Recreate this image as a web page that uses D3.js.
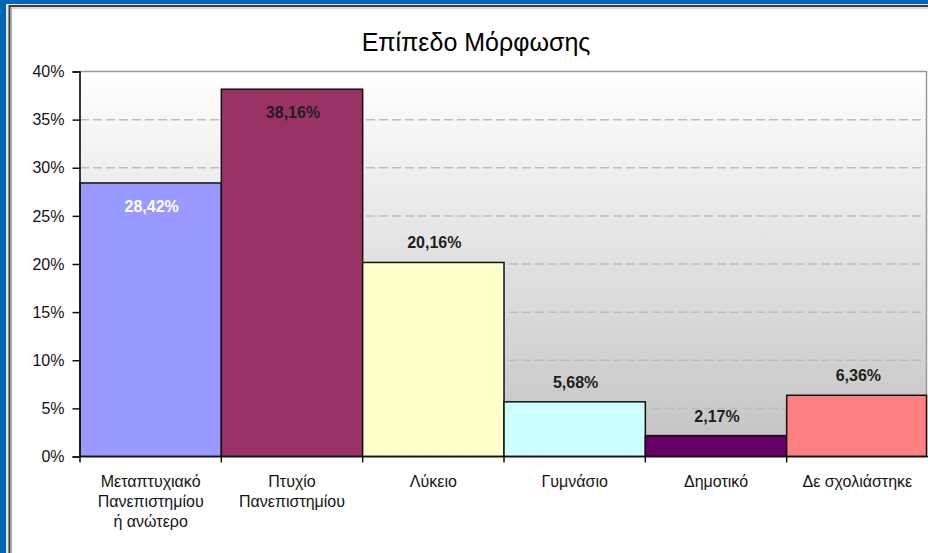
<!DOCTYPE html>
<html>
<head>
<meta charset="utf-8">
<script src="https://cdn.jsdelivr.net/npm/d3@7"></script>
<style>
  body { margin: 0; background: #0066b3; }
  svg { display: block; }
  text { font-family: "Liberation Sans", Arial, sans-serif; fill: #141414; }
</style>
</head>
<body>
<div id="chart"></div>
<script>
const title = 'Επίπεδο Μόρφωσης';
const categories = [
  ['Μεταπτυχιακό', 'Πανεπιστημίου', 'ή ανώτερο'],
  ['Πτυχίο', 'Πανεπιστημίου'],
  ['Λύκειο'],
  ['Γυμνάσιο'],
  ['Δημοτικό'],
  ['Δε σχολιάστηκε']
];
const values = [28.42, 38.16, 20.16, 5.68, 2.17, 6.36];
const yTicks = [0, 5, 10, 15, 20, 25, 30, 35, 40];

const colors = ['#9999ff', '#993366', '#ffffcc', '#ccffff', '#660066', '#ff8080'];
const labelColors = ['#ffffff', '#1e1e1e', '#1e1e1e', '#1e1e1e', '#1e1e1e', '#1e1e1e'];

drawChart();

function drawChart() {
  const width = 928;
  const height = 553;
  const svg = d3.select('#chart')
    .append('svg')
    .attr('width', width)
    .attr('height', height);

  // white chart area inside the blue frame
  svg.append('rect')
    .attr('x', 6)
    .attr('y', 4)
    .attr('width', width)
    .attr('height', height)
    .attr('fill', '#e8e8e8');
  svg.append('rect')
    .attr('x', 9.5)
    .attr('y', 6)
    .attr('width', width + 10)
    .attr('height', height + 10)
    .attr('fill', '#ffffff')
    .attr('stroke', '#3c3c3c')
    .attr('stroke-width', 2);
  svg.append('rect')
    .attr('x', 11.5)
    .attr('y', 8)
    .attr('width', width + 10)
    .attr('height', height + 10)
    .attr('fill', 'none')
    .attr('stroke', '#b0b0b0')
    .attr('stroke-width', 1);

  const left = 80;
  const right = 928;
  const top = 71.5;
  const bottom = 456.5;

  const x = d3.scaleBand()
    .domain(d3.range(values.length))
    .range([left, right])
    .padding(0);

  const y = d3.scaleLinear()
    .domain([0, 40])
    .range([bottom, top]);

  // plot area gradient
  const defs = svg.append('defs');
  const grad = defs.append('linearGradient')
    .attr('id', 'plotbg')
    .attr('x1', 0).attr('y1', 0)
    .attr('x2', 0).attr('y2', 1);
  grad.append('stop').attr('offset', '0%').attr('stop-color', '#ffffff');
  grad.append('stop').attr('offset', '100%').attr('stop-color', '#c2c2c2');

  svg.append('rect')
    .attr('x', left)
    .attr('y', top)
    .attr('width', 926.5 - left)
    .attr('height', bottom - top)
    .attr('fill', 'url(#plotbg)')
    .attr('stroke', '#9a9a9a')
    .attr('stroke-width', 1.5);

  // dashed gridlines
  svg.append('g')
    .selectAll('line')
    .data(yTicks.filter(d => d > 0 && d < 40))
    .enter()
    .append('line')
    .attr('x1', left)
    .attr('x2', 926.5)
    .attr('y1', d => y(d))
    .attr('y2', d => y(d))
    .attr('stroke', '#bdbdbd')
    .attr('stroke-width', 1.5)
    .attr('stroke-dasharray', '9,4');

  // bars
  svg.append('g')
    .selectAll('rect')
    .data(values)
    .enter()
    .append('rect')
    .attr('x', (d, i) => x(i))
    .attr('y', d => y(d))
    .attr('width', (d, i) => i === values.length - 1 ? x.bandwidth() - 1.5 : x.bandwidth())
    .attr('height', d => y(0) - y(d))
    .attr('fill', (d, i) => colors[i])
    .attr('stroke', '#111111')
    .attr('stroke-width', 1.5);

  // value labels, tall bars get the label inside
  svg.append('g')
    .selectAll('text')
    .data(values)
    .enter()
    .append('text')
    .attr('x', (d, i) => x(i) + x.bandwidth() / 2 + 1)
    .attr('y', d => d > 25 ? y(d) + 29 : y(d) - 14)
    .attr('text-anchor', 'middle')
    .attr('font-size', 16)
    .attr('font-weight', 'bold')
    .style('fill', (d, i) => labelColors[i])
    .text(d => d.toFixed(2).replace('.', ',') + '%');

  // y axis
  const axisY = d3.axisLeft(y)
    .tickValues(yTicks)
    .tickSize(7)
    .tickPadding(8)
    .tickFormat(d => d + '%');
  const gy = svg.append('g')
    .attr('transform', `translate(${left - 0.5}, 0)`)
    .call(axisY);
  gy.select('.domain').attr('stroke', '#111').attr('stroke-width', 1.5);
  gy.selectAll('.tick line').attr('stroke', '#111').attr('stroke-width', 1.5);
  gy.selectAll('.tick text')
    .attr('font-size', 16)
    .attr('font-family', '"Liberation Sans", Arial, sans-serif')
    .style('fill', '#141414');

  // x axis line and boundary ticks
  svg.append('line')
    .attr('x1', left)
    .attr('x2', right)
    .attr('y1', bottom)
    .attr('y2', bottom)
    .attr('stroke', '#111')
    .attr('stroke-width', 1.5);
  svg.append('g')
    .selectAll('line')
    .data(d3.range(values.length))
    .enter()
    .append('line')
    .attr('x1', i => left + i * x.step())
    .attr('x2', i => left + i * x.step())
    .attr('y1', bottom)
    .attr('y2', bottom + 6)
    .attr('stroke', '#111')
    .attr('stroke-width', 1.5);

  // category labels
  const catText = svg.append('g')
    .selectAll('text')
    .data(categories)
    .enter()
    .append('text')
    .attr('text-anchor', 'middle')
    .attr('font-size', 16);
  catText.selectAll('tspan')
    .data((d, i) => d.map(line => ({ line, i })))
    .enter()
    .append('tspan')
    .attr('x', d => x(d.i) + x.bandwidth() / 2)
    .attr('y', (d, j) => 487 + j * 20)
    .text(d => d.line);

  // title
  svg.append('text')
    .attr('x', 476)
    .attr('y', 51)
    .attr('text-anchor', 'middle')
    .attr('font-size', 25)
    .style('fill', '#000')
    .text(title);
}
</script>
</body>
</html>
